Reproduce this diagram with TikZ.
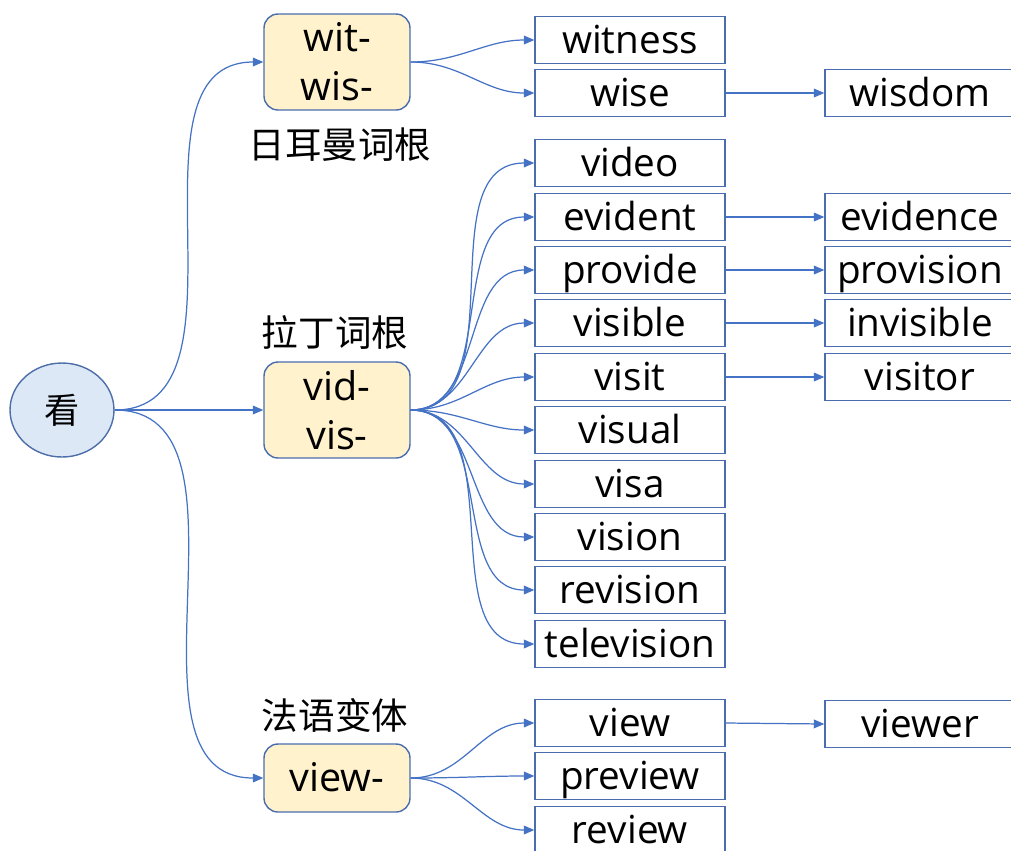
\documentclass[tikz,border=0pt]{standalone}
\usepackage{fontspec}
\setmainfont{Open Sans}
\newfontfamily\cjk{Noto Sans CJK SC}
\usepackage{tikz}
\usetikzlibrary{arrows.meta,shapes.geometric}

\definecolor{linkblue}{HTML}{4472C4}
\definecolor{boxline}{HTML}{4A6DAE}
\definecolor{rootfill}{HTML}{DCE8F5}
\definecolor{rootline}{HTML}{4D6EA8}
\definecolor{stemfill}{HTML}{FFF2CC}

\begin{document}
\begin{tikzpicture}[x=0.02cm,y=-0.02cm,
  rootnode/.style={ellipse,draw=rootline,fill=rootfill,line width=0.8pt,
    minimum width=2.08cm,minimum height=1.88cm,inner sep=0pt,
    font=\cjk\fontsize{20}{24}\selectfont},
  stembox/.style={draw=boxline,fill=stemfill,rounded corners=0.28cm,line width=0.8pt,
    minimum width=2.92cm,minimum height=1.92cm,inner sep=0pt,align=center,
    font=\fontsize{22.5}{28}\selectfont},
  tag/.style={inner sep=0pt,font=\cjk\fontsize{20.8}{24}\selectfont},
  word/.style={draw=boxline,line width=0.8pt,minimum width=3.8cm,minimum height=0.94cm,
    inner sep=0pt,text height=0.62cm,text depth=0.08cm,font=\fontsize{22}{26}\selectfont},
  link/.style={draw=linkblue,line width=0.7pt,-{Triangle[length=6pt,width=5pt]}}]
\clip (0,0) rectangle (1011,850);

% root
\node[rootnode] (kan) at (62,410) {看};

% German root
\node[stembox] (wit) at (337,62) {wit-\\wis-};
\node[tag] (witlab) at (340,145) {日耳曼词根};
\node[word] (witness) at (630,40) {witness};
\node[word] (wise) at (630,93) {wise};
\node[word] (wisdom) at (920,93) {wisdom};

% Latin root
\node[tag] (vidlab) at (335,332) {拉丁词根};
\node[stembox] (vid) at (337,410) {vid-\\vis-};
\node[word] (video) at (630,163) {video};
\node[word] (evident) at (630,217) {evident};
\node[word] (provide) at (630,270) {provide};
\node[word] (visible) at (630,323) {visible};
\node[word] (visit) at (630,377) {visit};
\node[word] (visual) at (630,430) {visual};
\node[word] (visa) at (630,484) {visa};
\node[word] (vision) at (630,537) {vision};
\node[word] (revision) at (630,590) {revision};
\node[word] (television) at (630,644) {television};
\node[word] (evidence) at (920,217) {evidence};
\node[word] (provision) at (920,270) {provision};
\node[word] (invisible) at (920,323) {invisible};
\node[word] (visitor) at (920,377) {visitor};

% French form
\node[tag] (viewlab) at (335,715) {法语变体};
\node[stembox,minimum height=1.36cm,text height=0.62cm,text depth=0.08cm] (viewstem) at (337,778) {view-};
\node[word] (view) at (630,723) {view};
\node[word] (preview) at (630,776) {preview};
\node[word] (review) at (630,830) {review};
\node[word] (viewer) at (920,724) {viewer};

% links from root
\draw[link] (kan.east) to[out=0,in=180] (wit.west);
\draw[link] (kan.east) -- (vid.west);
\draw[link] (kan.east) to[out=0,in=180] (viewstem.west);

% links from wit-
\draw[link] (wit.east) to[out=0,in=180] (witness.west);
\draw[link] (wit.east) to[out=0,in=180] (wise.west);
\draw[link] (wise.east) -- (wisdom.west);

% links from vid-
\draw[link] (vid.east) to[out=0,in=180] (video.west);
\draw[link] (vid.east) to[out=0,in=180] (evident.west);
\draw[link] (vid.east) to[out=0,in=180] (provide.west);
\draw[link] (vid.east) to[out=0,in=180] (visible.west);
\draw[link] (vid.east) to[out=0,in=180] (visit.west);
\draw[link] (vid.east) to[out=0,in=180] (visual.west);
\draw[link] (vid.east) to[out=0,in=180] (visa.west);
\draw[link] (vid.east) to[out=0,in=180] (vision.west);
\draw[link] (vid.east) to[out=0,in=180] (revision.west);
\draw[link] (vid.east) to[out=0,in=180] (television.west);
\draw[link] (evident.east) -- (evidence.west);
\draw[link] (provide.east) -- (provision.west);
\draw[link] (visible.east) -- (invisible.west);
\draw[link] (visit.east) -- (visitor.west);

% links from view-
\draw[link] (viewstem.east) to[out=0,in=180] (view.west);
\draw[link] (viewstem.east) to[out=0,in=180] (preview.west);
\draw[link] (viewstem.east) to[out=0,in=180] (review.west);
\draw[link] (view.east) -- (viewer.west);
\end{tikzpicture}
\end{document}
